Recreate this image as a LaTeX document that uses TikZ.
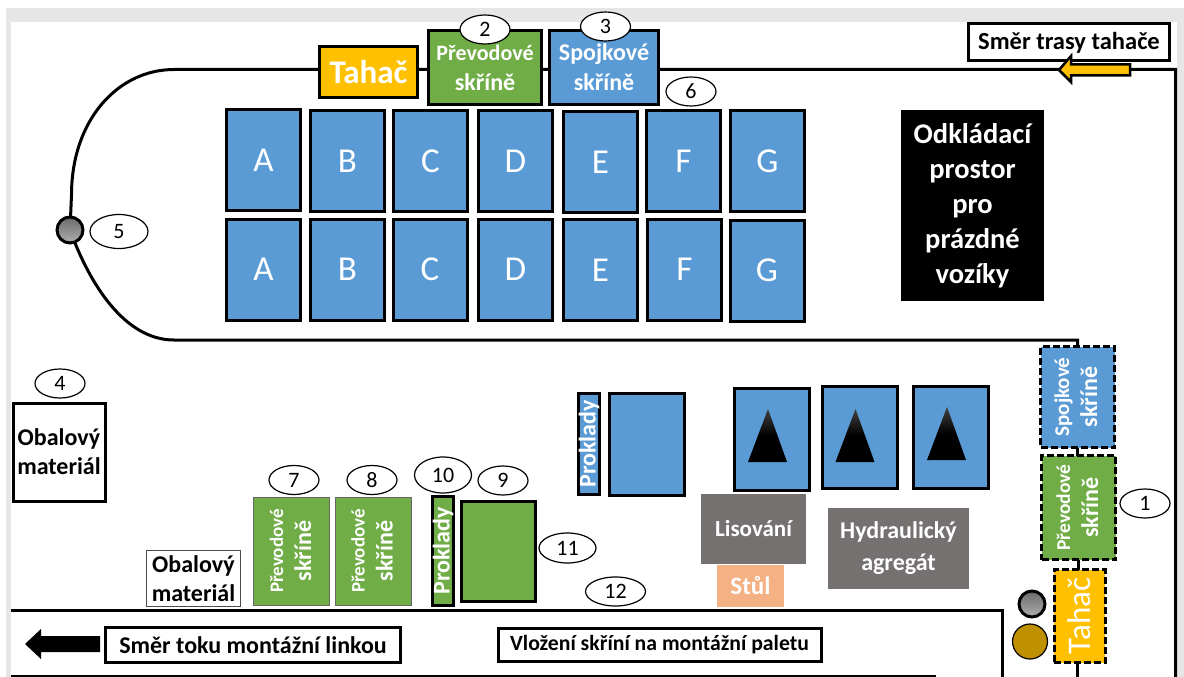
\documentclass[tikz,border=0pt]{standalone}
\usepackage{fontspec}
\setmainfont{Carlito}
\usetikzlibrary{shapes.geometric,backgrounds}
\definecolor{boxblue}{RGB}{91,155,213}
\definecolor{boxgreen}{RGB}{112,173,71}
\definecolor{tugyellow}{RGB}{255,192,0}
\definecolor{pressgray}{RGB}{118,113,113}
\definecolor{tablesalmon}{RGB}{244,177,131}
\definecolor{wheelbrown}{RGB}{191,144,0}
\definecolor{framegray}{RGB}{230,230,230}
\newcommand{\skrine}{{\fontsize{24}{28}\selectfont skříně}}

\begin{document}
\begin{tikzpicture}[
                x=1pt, y=-1pt,
                every node/.style={inner sep=0pt, outer sep=0pt},
                bx/.style={rectangle, draw=black, line width=3pt, align=center, text=white},
                cart/.style={bx, fill=boxblue, minimum width=74, minimum height=101, font=\fontsize{35}{40}\selectfont},
                gearbox/.style={bx, fill=boxgreen, font=\fontsize{22}{30}\bfseries\selectfont},
                clutchbox/.style={bx, fill=boxblue, font=\fontsize{24}{30}\bfseries\selectfont},
                sidebox/.style={rectangle, fill=boxgreen, draw=black!60, line width=1pt, minimum width=76, minimum height=108, align=center, text=white, font=\fontsize{19}{28}\bfseries\selectfont},
                dashbox/.style={rectangle, draw=black, line width=3pt, dash pattern=on 7pt off 3pt, align=center, text=white},
                graybox/.style={rectangle, fill=pressgray, align=center, text=white, font=\fontsize{23}{32}\bfseries\selectfont},
                label_box/.style={rectangle, draw=black, fill=white, line width=3pt, align=center},
                num/.style={ellipse, draw=black, fill=white, line width=1.2pt, minimum width=50, minimum height=29, font=\fontsize{22}{24}\selectfont},
                spacer/.style={bx, text=white, font=\fontsize{24}{26}\bfseries\selectfont},
                track/.style={draw=black, line width=3pt},
                wheel/.style={circle, draw=black, line width=3pt, top color=black!58, bottom color=black!32}
            ]
                \useasboundingbox (0,0) rectangle (1184,677);

                % Track points
                \coordinate (trackRight) at (1175.5,677);
                \coordinate (trackCorner) at (1175.5,69.5);
                \coordinate (trackTop) at (174,69.5);
                \coordinate (trackSide) at (71.5,195);
                \coordinate (trackLow) at (174,340);
                \coordinate (trackTail) at (1077,677);

                % Elements placing
                % Tow train on the top
                \node[bx, fill=tugyellow, minimum width=98, minimum height=51, font=\fontsize{33}{38}\bfseries\selectfont] (tug) at (368.5,72) {Tahač};
                \node[gearbox, minimum width=113, minimum height=74] (gearTop) at (485,67.5) {Převodové\\\skrine};
                \node[clutchbox, minimum width=109, minimum height=74] (clutchTop) at (604,67.5) {Spojkové\\\skrine};

                % Carts, two rows
                \foreach \name/\x/\y in {A/263.5/160, B/347.5/161, C/430.5/161, D/515.5/161, E/600.5/162, F/683.5/161, G/767.5/161} {
                    \node[cart] (top\name) at (\x,\y) {\name};
                }
                \foreach \name/\x/\y in {A/263.5/269.5, B/347.5/269.5, C/430/269.5, D/515.5/269.5, E/600.5/270, F/684.5/269.5, G/767/270.5} {
                    \node[cart] (low\name) at (\x,\y) {\name};
                }

                % Parking space
                \node[rectangle, fill=black, text=white, minimum width=143, minimum height=191, align=center, font=\fontsize{28.5}{35}\bfseries\selectfont] (parking) at (972.5,205.5) {Odkládací\\prostor\\pro\\prázdné\\vozíky};

                % Direction of the train
                \node[label_box, minimum width=201, minimum height=37, font=\fontsize{24.5}{28}\bfseries\selectfont] (trainDir) at (1069,42.5) {Směr trasy tahače};
                \fill[tugyellow, draw=black, line width=2.5pt] (1130,64.5) -- (1071,64.5) -- (1071,56) -- (1059,70) -- (1071,82) -- (1071,75.5) -- (1130,75.5) -- cycle;

                % Packaging and lower left stock
                \node[label_box, minimum width=92, minimum height=98, font=\fontsize{24}{29}\bfseries\selectfont] (wrapLeft) at (59,452) {Obalový\\materiál};
                \node[label_box, line width=1pt, draw=black!70, minimum width=94, minimum height=56, font=\fontsize{24}{29}\bfseries\selectfont] (wrapLow) at (193.5,578.5) {Obalový\\materiál};
                \node[sidebox] (gearA) at (291.5,551) {\rotatebox{90}{\begin{tabular}{@{}c@{}}Převodové\\\skrine\end{tabular}}};
                \node[sidebox] (gearB) at (373,551) {\rotatebox{90}{\begin{tabular}{@{}c@{}}Převodové\\\skrine\end{tabular}}};
                \node[spacer, fill=boxgreen, minimum width=21, minimum height=109] (padGreen) at (443,551) {\rotatebox{90}{Proklady}};
                \node[bx, fill=boxgreen, minimum width=74, minimum height=100] (gearEmpty) at (498.5,551.5) {};

                % Press station
                \node[spacer, fill=boxblue, minimum width=20, minimum height=101] (padBlue) at (589,444) {\rotatebox{90}{Proklady}};
                \node[bx, fill=boxblue, minimum width=75, minimum height=102] (cartEmpty) at (647,444.5) {};
                \foreach \name/\x/\y/\ya/\yb in {one/772/439.5/409/462, two/859.5/437.5/409/462, three/951/437.5/407/460} {
                    \node[bx, fill=boxblue, minimum width=75, minimum height=102] (press\name) at (\x,\y) {};
                    \shade[top color=black!75, bottom color=black, middle color=black] (\x-24,\yb) -- (\x-4,\ya) -- (\x+15,\yb) -- cycle;
                }
                \node[graybox, minimum width=105, minimum height=70] (pressing) at (753.5,529) {Lisování};
                \node[graybox, fill=tablesalmon, minimum width=67, minimum height=42, font=\fontsize{25}{32}\bfseries\selectfont] (table) at (750.5,586) {Stůl};
                \node[graybox, font=\fontsize{24}{32}\bfseries\selectfont, minimum width=141, minimum height=81] (hydraulic) at (898.5,548.5) {Hydraulický\\agregát};

                % Train at the line, dashed
                \node[dashbox, fill=boxblue, minimum width=74, minimum height=101, font=\fontsize{21}{28}\bfseries\selectfont] (clutchDash) at (1077.5,397) {\rotatebox{90}{\begin{tabular}{@{}c@{}}Spojkové\\\skrine\end{tabular}}};
                \node[dashbox, fill=boxgreen, minimum width=74, minimum height=104, font=\fontsize{19.5}{28}\bfseries\selectfont] (gearDash) at (1078.5,507.5) {\rotatebox{90}{\begin{tabular}{@{}c@{}}Převodové\\\skrine\end{tabular}}};
                \node[dashbox, fill=tugyellow, minimum width=51, minimum height=93, font=\fontsize{33}{38}\selectfont] (tugDash) at (1079.5,616) {\rotatebox{90}{Tahač}};

                % Wheels
                \node[wheel, minimum size=26] (wheelLoop) at (70,230) {};
                \node[wheel, minimum size=26] (wheelLine) at (1032,604) {};
                \node[circle, draw=black, fill=wheelbrown, line width=1.2pt, minimum size=35] (wheelBrown) at (1030,641.5) {};

                % Assembly line labels
                \node[label_box, minimum width=295, minimum height=35, font=\fontsize{24}{26}\bfseries\selectfont] (flowDir) at (253,645) {Směr toku montážní linkou};
                \node[label_box, minimum width=323, minimum height=33, font=\fontsize{21.7}{24}\bfseries\selectfont] (palletBox) at (659.5,645) {Vložení skříní na montážní paletu};
                \fill[black] (100,636) -- (41,636) -- (41,629) -- (25,644) -- (41,659) -- (41,652) -- (100,652) -- cycle;

                % Numbers
                \node[num] (n1) at (1145,503.5) {1};
                \node[num] (n2) at (485,29.5) {2};
                \node[num] (n3) at (605.5,26.5) {3};
                \node[num] (n4) at (60,383.5) {4};
                \node[num, minimum width=58, minimum height=34] (n5) at (119,231.5) {5};
                \node[num] (n6) at (691,91.5) {6};
                \node[num] (n7) at (294,480) {7};
                \node[num] (n8) at (372,480) {8};
                \node[num, minimum width=57, minimum height=36] (n10) at (443,475) {10};
                \node[num] (n9) at (503,480.5) {9};
                \node[num, minimum width=57, minimum height=30] (n11) at (567.5,548) {11};
                \node[num, minimum width=60, minimum height=29] (n12) at (615.5,591.5) {12};

                % Track, frame and line behind the nodes
                \begin{scope}[on background layer]
                    \fill[framegray] (6,8) rectangle (1184,677);
                    \fill[white] (11,22) rectangle (1177,677);
                    \draw[track] (trackRight) -- (trackCorner) -- (trackTop) .. controls (118,69.5) and (71.5,120) .. (trackSide) -- (wheelLoop.center);
                    \draw[track] (wheelLoop.center) .. controls (90,285) and (125,340) .. (trackLow) -- (clutchDash.north |- trackLow) -- (clutchDash.north);
                    \draw[track] (clutchDash.south) -- (clutchDash.south |- gearDash.north);
                    \draw[track] (gearDash.south) -- (gearDash.south |- tugDash.north);
                    \draw[track] (trackTail |- tugDash.south) -- (trackTail);
                    % Assembly line
                    \draw[line width=3pt] (11,610) -- (1002,610) -- (1002,677);
                    \draw[line width=3pt] (11,676) -- (936,676);
                \end{scope}
            \end{tikzpicture}
\end{document}
